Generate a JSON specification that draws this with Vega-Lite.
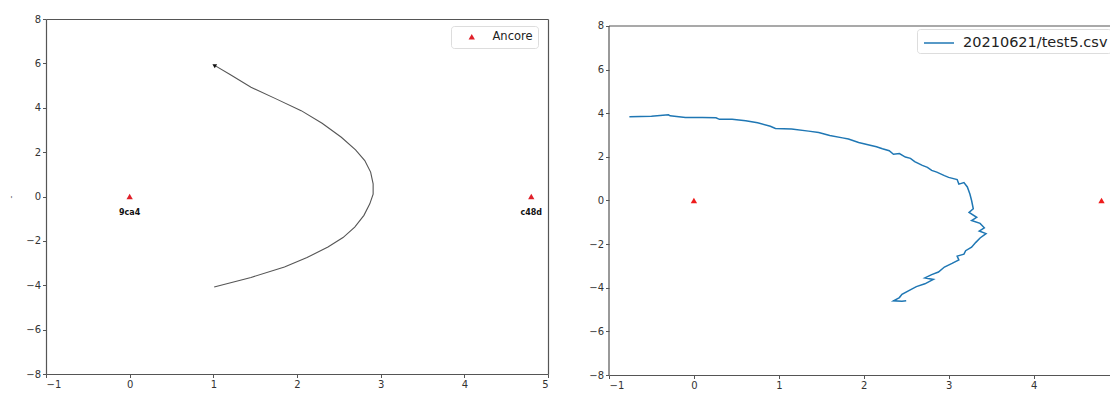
{
  "$schema": "https://vega.github.io/schema/vega-lite/v6.json",
  "background": "white",
  "padding": {"left": 7, "top": 14, "right": 0, "bottom": 0},
  "spacing": 39,
  "config": {
    "view": {"stroke": null},
    "font": "DejaVu Sans",
    "axis": {
      "grid": false,
      "domainColor": "#555",
      "domainWidth": 1.2,
      "tickColor": "#555",
      "tickSize": 3.5,
      "labelColor": "#333",
      "labelFontSize": 10,
      "labelPadding": 2,
      "labelFont": "DejaVu Sans"
    }
  },
  "datasets": {
    "anchors": [
      {"x": 0, "y": 0, "id": "9ca4", "series": "Ancore"},
      {"x": 4.8, "y": 0, "id": "c48d", "series": "Ancore"}
    ],
    "arrow": [{"x": 1.01, "y": 5.92}],
    "frame": [{"xmin": -1, "ymin": -8, "ymax": 8}],
    "curve": [
      {"i": 0, "x": 1.01, "y": 5.92},
      {"i": 1, "x": 1.2, "y": 5.5},
      {"i": 2, "x": 1.45, "y": 4.92},
      {"i": 3, "x": 1.75, "y": 4.4},
      {"i": 4, "x": 2.05, "y": 3.87},
      {"i": 5, "x": 2.3, "y": 3.3},
      {"i": 6, "x": 2.53, "y": 2.67},
      {"i": 7, "x": 2.7, "y": 2.1},
      {"i": 8, "x": 2.81, "y": 1.62},
      {"i": 9, "x": 2.88, "y": 1.1},
      {"i": 10, "x": 2.91, "y": 0.57},
      {"i": 11, "x": 2.91, "y": 0.1},
      {"i": 12, "x": 2.87, "y": -0.33},
      {"i": 13, "x": 2.8, "y": -0.85},
      {"i": 14, "x": 2.69, "y": -1.38},
      {"i": 15, "x": 2.55, "y": -1.85},
      {"i": 16, "x": 2.37, "y": -2.28},
      {"i": 17, "x": 2.12, "y": -2.75},
      {"i": 18, "x": 1.85, "y": -3.18},
      {"i": 19, "x": 1.45, "y": -3.65},
      {"i": 20, "x": 1.01, "y": -4.08}
    ],
    "path": [
      {"i": 0, "x": -0.76, "y": 3.84, "series": "20210621/test5.csv"},
      {"i": 1, "x": -0.5, "y": 3.86, "series": "20210621/test5.csv"},
      {"i": 2, "x": -0.3, "y": 3.93, "series": "20210621/test5.csv"},
      {"i": 3, "x": -0.28, "y": 3.88, "series": "20210621/test5.csv"},
      {"i": 4, "x": -0.1, "y": 3.81, "series": "20210621/test5.csv"},
      {"i": 5, "x": 0.1, "y": 3.81, "series": "20210621/test5.csv"},
      {"i": 6, "x": 0.26, "y": 3.79, "series": "20210621/test5.csv"},
      {"i": 7, "x": 0.3, "y": 3.72, "series": "20210621/test5.csv"},
      {"i": 8, "x": 0.45, "y": 3.72, "series": "20210621/test5.csv"},
      {"i": 9, "x": 0.61, "y": 3.66, "series": "20210621/test5.csv"},
      {"i": 10, "x": 0.75, "y": 3.56, "series": "20210621/test5.csv"},
      {"i": 11, "x": 0.9, "y": 3.4, "series": "20210621/test5.csv"},
      {"i": 12, "x": 0.96, "y": 3.3, "series": "20210621/test5.csv"},
      {"i": 13, "x": 1.15, "y": 3.28, "series": "20210621/test5.csv"},
      {"i": 14, "x": 1.35, "y": 3.18, "series": "20210621/test5.csv"},
      {"i": 15, "x": 1.47, "y": 3.12, "series": "20210621/test5.csv"},
      {"i": 16, "x": 1.6, "y": 2.98, "series": "20210621/test5.csv"},
      {"i": 17, "x": 1.75, "y": 2.87, "series": "20210621/test5.csv"},
      {"i": 18, "x": 1.82, "y": 2.82, "series": "20210621/test5.csv"},
      {"i": 19, "x": 1.94, "y": 2.66, "series": "20210621/test5.csv"},
      {"i": 20, "x": 2.05, "y": 2.56, "series": "20210621/test5.csv"},
      {"i": 21, "x": 2.15, "y": 2.46, "series": "20210621/test5.csv"},
      {"i": 22, "x": 2.22, "y": 2.37, "series": "20210621/test5.csv"},
      {"i": 23, "x": 2.3, "y": 2.28, "series": "20210621/test5.csv"},
      {"i": 24, "x": 2.35, "y": 2.12, "series": "20210621/test5.csv"},
      {"i": 25, "x": 2.42, "y": 2.15, "series": "20210621/test5.csv"},
      {"i": 26, "x": 2.49, "y": 1.99, "series": "20210621/test5.csv"},
      {"i": 27, "x": 2.55, "y": 1.93, "series": "20210621/test5.csv"},
      {"i": 28, "x": 2.6, "y": 1.78, "series": "20210621/test5.csv"},
      {"i": 29, "x": 2.69, "y": 1.61, "series": "20210621/test5.csv"},
      {"i": 30, "x": 2.75, "y": 1.52, "series": "20210621/test5.csv"},
      {"i": 31, "x": 2.8, "y": 1.38, "series": "20210621/test5.csv"},
      {"i": 32, "x": 2.86, "y": 1.3, "series": "20210621/test5.csv"},
      {"i": 33, "x": 2.95, "y": 1.14, "series": "20210621/test5.csv"},
      {"i": 34, "x": 3.0, "y": 1.06, "series": "20210621/test5.csv"},
      {"i": 35, "x": 3.1, "y": 0.96, "series": "20210621/test5.csv"},
      {"i": 36, "x": 3.12, "y": 0.75, "series": "20210621/test5.csv"},
      {"i": 37, "x": 3.18, "y": 0.82, "series": "20210621/test5.csv"},
      {"i": 38, "x": 3.22, "y": 0.62, "series": "20210621/test5.csv"},
      {"i": 39, "x": 3.25, "y": 0.3, "series": "20210621/test5.csv"},
      {"i": 40, "x": 3.27, "y": 0.0, "series": "20210621/test5.csv"},
      {"i": 41, "x": 3.29, "y": -0.38, "series": "20210621/test5.csv"},
      {"i": 42, "x": 3.24, "y": -0.55, "series": "20210621/test5.csv"},
      {"i": 43, "x": 3.33, "y": -0.77, "series": "20210621/test5.csv"},
      {"i": 44, "x": 3.27, "y": -0.92, "series": "20210621/test5.csv"},
      {"i": 45, "x": 3.37, "y": -1.05, "series": "20210621/test5.csv"},
      {"i": 46, "x": 3.42, "y": -1.25, "series": "20210621/test5.csv"},
      {"i": 47, "x": 3.36, "y": -1.4, "series": "20210621/test5.csv"},
      {"i": 48, "x": 3.44, "y": -1.52, "series": "20210621/test5.csv"},
      {"i": 49, "x": 3.37, "y": -1.72, "series": "20210621/test5.csv"},
      {"i": 50, "x": 3.32, "y": -1.92, "series": "20210621/test5.csv"},
      {"i": 51, "x": 3.27, "y": -2.14, "series": "20210621/test5.csv"},
      {"i": 52, "x": 3.2, "y": -2.3, "series": "20210621/test5.csv"},
      {"i": 53, "x": 3.18, "y": -2.46, "series": "20210621/test5.csv"},
      {"i": 54, "x": 3.1, "y": -2.55, "series": "20210621/test5.csv"},
      {"i": 55, "x": 3.12, "y": -2.72, "series": "20210621/test5.csv"},
      {"i": 56, "x": 3.04, "y": -2.88, "series": "20210621/test5.csv"},
      {"i": 57, "x": 2.95, "y": -3.05, "series": "20210621/test5.csv"},
      {"i": 58, "x": 2.88, "y": -3.28, "series": "20210621/test5.csv"},
      {"i": 59, "x": 2.8, "y": -3.4, "series": "20210621/test5.csv"},
      {"i": 60, "x": 2.72, "y": -3.55, "series": "20210621/test5.csv"},
      {"i": 61, "x": 2.82, "y": -3.62, "series": "20210621/test5.csv"},
      {"i": 62, "x": 2.72, "y": -3.82, "series": "20210621/test5.csv"},
      {"i": 63, "x": 2.62, "y": -3.95, "series": "20210621/test5.csv"},
      {"i": 64, "x": 2.57, "y": -4.05, "series": "20210621/test5.csv"},
      {"i": 65, "x": 2.45, "y": -4.3, "series": "20210621/test5.csv"},
      {"i": 66, "x": 2.42, "y": -4.45, "series": "20210621/test5.csv"},
      {"i": 67, "x": 2.35, "y": -4.6, "series": "20210621/test5.csv"},
      {"i": 68, "x": 2.45, "y": -4.62, "series": "20210621/test5.csv"},
      {"i": 69, "x": 2.5, "y": -4.6, "series": "20210621/test5.csv"}
    ]
  },
  "resolve": {"scale": {"x": "independent", "y": "independent", "color": "independent", "shape": "independent"}},
  "hconcat": [
    {
      "width": 502,
      "height": 355,
      "layer": [
        {
          "data": {"name": "curve"},
          "mark": {"type": "line", "color": "#555", "strokeWidth": 1.1},
          "encoding": {
            "x": {"field": "x", "type": "quantitative", "scale": {"domain": [-1, 5], "nice": false, "zero": false},
                  "axis": {"orient": "bottom", "values": [-1, 0, 1, 2, 3, 4, 5], "format": "d", "title": null}},
            "y": {"field": "y", "type": "quantitative", "scale": {"domain": [-8, 8], "nice": false, "zero": false},
                  "axis": {"orient": "left", "values": [-8, -6, -4, -2, 0, 2, 4, 6, 8], "format": "d", "title": "-", "titleFontSize": 8, "titleFontWeight": "normal", "titleColor": "#555", "titlePadding": 10}},
            "order": {"field": "i", "type": "quantitative"}
          }
        },
        {
          "data": {"name": "anchors"},
          "mark": {"type": "point", "filled": true, "size": 40, "opacity": 1},
          "encoding": {
            "x": {"field": "x", "type": "quantitative", "scale": {"domain": [-1, 5], "nice": false, "zero": false},
                  "axis": {"orient": "top", "labels": false, "ticks": false, "title": null}},
            "y": {"field": "y", "type": "quantitative", "scale": {"domain": [-8, 8], "nice": false, "zero": false},
                  "axis": {"orient": "right", "labels": false, "ticks": false, "title": null}},
            "color": {"field": "series", "type": "nominal", "scale": {"range": ["#e0202a"]},
                      "legend": {"orient": "none", "legendX": 405, "legendY": 7, "title": null, "strokeColor": "#ddd", "fillColor": "white", "cornerRadius": 3, "padding": 5, "symbolOffset": 10, "labelOffset": 15, "labelFontSize": 11.5, "labelColor": "#222", "symbolSize": 40}},
            "shape": {"field": "series", "type": "nominal", "scale": {"range": ["triangle-up"]}, "legend": null}
          }
        },
        {
          "data": {"name": "anchors"},
          "mark": {"type": "text", "dy": 16, "fontSize": 8, "fontWeight": "bold", "color": "#111", "baseline": "middle"},
          "encoding": {
            "x": {"field": "x", "type": "quantitative", "axis": null},
            "y": {"field": "y", "type": "quantitative", "axis": null},
            "text": {"field": "id", "type": "nominal"}
          }
        },
        {
          "data": {"name": "arrow"},
          "mark": {"type": "point", "shape": "triangle-up", "filled": true, "size": 22, "angle": 300, "color": "#111", "opacity": 1},
          "encoding": {
            "x": {"field": "x", "type": "quantitative", "axis": null},
            "y": {"field": "y", "type": "quantitative", "axis": null}
          }
        }
      ]
    },
    {
      "width": 501,
      "height": 356,
      "layer": [
        {
          "data": {"name": "frame"},
          "mark": {"type": "rule", "color": "#555", "strokeWidth": 1.2},
          "encoding": {
            "y": {"field": "ymax", "type": "quantitative", "axis": null}
          }
        },
        {
          "data": {"name": "frame"},
          "mark": {"type": "rule", "color": "#555", "strokeWidth": 1.2},
          "encoding": {
            "x": {"field": "xmin", "type": "quantitative", "axis": null},
            "y": {"field": "ymin", "type": "quantitative", "axis": null},
            "y2": {"field": "ymax"}
          }
        },
        {
          "data": {"name": "path"},
          "mark": {"type": "line", "strokeWidth": 1.5},
          "encoding": {
            "x": {"field": "x", "type": "quantitative", "scale": {"domain": [-1, 4.9], "nice": false, "zero": false},
                  "axis": {"orient": "bottom", "values": [-1, 0, 1, 2, 3, 4], "format": "d", "title": null}},
            "y": {"field": "y", "type": "quantitative", "scale": {"domain": [-8, 8.32], "nice": false, "zero": false},
                  "axis": {"orient": "left", "values": [-8, -6, -4, -2, 0, 2, 4, 6, 8], "format": "d", "title": null, "domain": false}},
            "order": {"field": "i", "type": "quantitative"},
            "color": {"field": "series", "type": "nominal", "scale": {"range": ["#1f77b4"]},
                      "legend": {"orient": "none", "legendX": 308, "legendY": 10, "title": null, "strokeColor": "#ddd", "fillColor": "white", "cornerRadius": 3, "padding": 3, "symbolType": "M-1.5,0L1.5,0", "symbolSize": 400, "symbolStrokeWidth": 1.5, "symbolOffset": 8, "labelOffset": 13, "labelFontSize": 14.5, "labelColor": "#222"}}
          }
        },
        {
          "data": {"name": "anchors"},
          "mark": {"type": "point", "shape": "triangle-up", "filled": true, "size": 40, "color": "#ee1c1c", "opacity": 1},
          "encoding": {
            "x": {"field": "x", "type": "quantitative", "scale": {"domain": [-1, 4.9], "nice": false, "zero": false},
                  "axis": {"orient": "top", "labels": false, "ticks": false, "domain": false, "title": null}},
            "y": {"field": "y", "type": "quantitative", "scale": {"domain": [-8, 8.32], "nice": false, "zero": false},
                  "axis": {"orient": "right", "labels": false, "ticks": false, "domain": false, "title": null}}
          }
        }
      ]
    }
  ]
}
